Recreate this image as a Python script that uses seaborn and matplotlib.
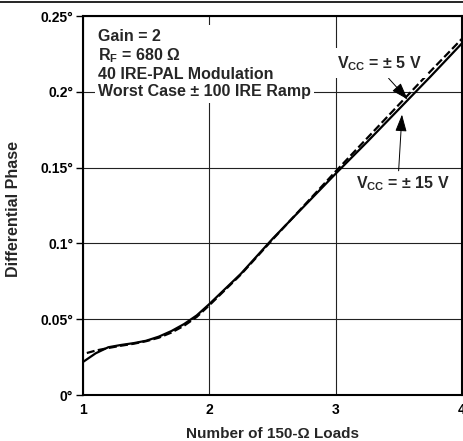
import numpy as np
import pandas as pd
import matplotlib
matplotlib.use("Agg")
import matplotlib.pyplot as plt
import seaborn as sns

# Differential phase vs number of 150-ohm loads
loads_15v = [1.0, 1.1, 1.2, 1.3, 1.4, 1.5, 1.6, 1.7, 1.8, 1.9, 2.0,
             2.25, 2.5, 2.75, 3.0, 3.25, 3.5, 3.75, 4.0]
phase_15v = [0.0218, 0.0275, 0.0315, 0.0330, 0.0342, 0.0358, 0.0385, 0.0422,
             0.0468, 0.0525, 0.0600, 0.0800, 0.1030, 0.1245, 0.1460, 0.1670,
             0.1885, 0.2100, 0.2320]

loads_5v = [1.03, 1.1, 1.2, 1.3, 1.4, 1.5, 1.6, 1.7, 1.8, 1.9, 2.0,
            2.25, 2.5, 2.75, 3.0, 3.25, 3.5, 3.75, 4.0]
phase_5v = [0.0277, 0.0293, 0.0310, 0.0325, 0.0338, 0.0355, 0.0378, 0.0412,
            0.0457, 0.0515, 0.0592, 0.0795, 0.1025, 0.1250, 0.1475, 0.1695,
            0.1915, 0.2135, 0.2350]

series_names = ["VCC = ±15 V", "VCC = ±5 V"]

x_ticks = [1, 2, 3, 4]
y_ticks = [0, 0.05, 0.1, 0.15, 0.2, 0.25]
y_tick_labels = ["0°", "0.05°", "0.1°", "0.15°", "0.2°", "0.25°"]

conditions = ["Gain = 2", "R$_\\mathregular{F}$ = 680 Ω", "40 IRE-PAL Modulation",
              "Worst Case ± 100 IRE Ramp"]

df = pd.concat([
    pd.DataFrame({"loads": loads_15v, "phase": phase_15v, "supply": series_names[0]}),
    pd.DataFrame({"loads": loads_5v, "phase": phase_5v, "supply": series_names[1]}),
])

sns.set_theme(style="white")
plt.rcParams["font.family"] = ["Liberation Sans", "DejaVu Sans"]
plt.rcParams["font.weight"] = "bold"
plt.rcParams["mathtext.fontset"] = "custom"
plt.rcParams["mathtext.rm"] = "Liberation Sans:bold"
plt.rcParams["mathtext.it"] = "Liberation Sans:bold"
plt.rcParams["mathtext.bf"] = "Liberation Sans:bold"

fig = plt.figure(figsize=(4.63, 4.41), dpi=100)
ax = fig.add_axes([0.1793, 0.1043, 0.8185, 0.8594])

sns.lineplot(data=df, x="loads", y="phase", hue="supply", style="supply",
             palette={series_names[0]: "black", series_names[1]: "black"},
             dashes={series_names[0]: "", series_names[1]: (3.6, 1.5)},
             linewidth=1.6, legend=False, ax=ax, sort=False, zorder=3)

ax.set_xlim(1, 4)
ax.set_ylim(0, 0.25)
ax.set_xticks(x_ticks)
ax.set_xticklabels([str(t) for t in x_ticks], fontsize=10, fontweight="bold")
ax.set_yticks(y_ticks)
ax.set_yticklabels(y_tick_labels, fontsize=10, fontweight="bold")
ax.tick_params(axis="x", length=0, pad=6, colors="black")
ax.tick_params(axis="y", length=5, width=1, pad=2, colors="black", direction="out")
ax.yaxis.set_ticks_position("left")

ax.grid(True, color="#222222", linewidth=0.8)
ax.set_axisbelow(True)
for s in ax.spines.values():
    s.set_visible(True)
    s.set_color("black")
    s.set_linewidth(1.5)

ax.set_xlabel("Number of 150-Ω Loads", fontsize=11, fontweight="bold", labelpad=7)
ax.set_ylabel("Differential Phase", fontsize=11.5, fontweight="bold")
ax.yaxis.set_label_coords(-0.163, 0.49)

# test-condition notes, on white so the grid stops behind them
ax.text(1.119, 0.2415, "\n".join(conditions),
        fontsize=11.5, fontweight="bold", va="top", ha="left",
        linespacing=1.18,
        bbox=dict(boxstyle="square,pad=0.22", facecolor="white", edgecolor="none"),
        zorder=4)

arrow_style = "-|>,head_length=0.95,head_width=0.32"

ax.annotate("V$_\\mathregular{CC}$ = ± 5 V", xy=(3.57, 0.1950), xytext=(3.01, 0.2157),
            fontsize=11.5, fontweight="bold", va="baseline", ha="left",
            bbox=dict(boxstyle="square,pad=0.35", facecolor="white", edgecolor="none"),
            arrowprops=dict(arrowstyle=arrow_style, color="black", lw=0.7,
                            shrinkA=0, shrinkB=0, relpos=(0.55, 0.0),
                            mutation_scale=11),
            zorder=5)

ax.annotate("V$_\\mathregular{CC}$ = ± 15 V", xy=(3.525, 0.1850), xytext=(3.163, 0.1365),
            fontsize=11.5, fontweight="bold", va="baseline", ha="left",
            arrowprops=dict(arrowstyle=arrow_style, color="black", lw=0.7,
                            shrinkA=0, shrinkB=0, relpos=(0.45, 1.0),
                            mutation_scale=11),
            zorder=5)

# frame rule across the top of the figure
fig.add_artist(plt.Line2D([0, 1], [0.9955, 0.9955], color="black", lw=1.2,
                          transform=fig.transFigure))

fig.savefig("out.png", dpi=100)
